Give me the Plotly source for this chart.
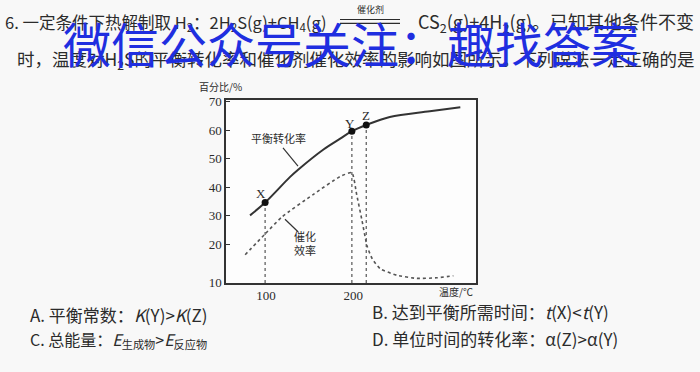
import plotly.graph_objects as go

# ---- data ----
eq_x = [81.6, 98.9, 127.6, 137.1, 165.9, 185.1, 198.5, 215, 242, 288, 323]
eq_y = [30.1, 34.6, 43.6, 46.2, 53.2, 57.0, 59.6, 61.8, 64.6, 66.6, 68.0]

cat_x = [76, 99, 118, 154, 185, 198.5, 204, 210, 216, 222, 231, 250, 273, 296, 315]
cat_y = [16.3, 23.6, 29.5, 37.4, 43.7, 45.1, 37.4, 28.5, 19.3, 14.8, 11.4, 9.1, 8.0, 8.2, 8.9]

pt_names = ["X", "Y", "Z"]
pt_x = [98.9, 198.5, 215]
pt_y = [34.6, 59.6, 61.8]

y_tickvals = [6.4, 20, 30, 40, 50, 60, 70]
y_ticktext = ["10", "20", "30", "40", "50", "60", "70"]
x_tickvals = [100, 200]
x_ticktext = ["100", "200"]

W, H = 700, 372
TXT = "#2b2b2b"
CJK = "Noto Sans CJK SC"
SERIF = "Liberation Serif"


def px(x):
    return x / W


def py(y):
    return 1 - y / H


fig = go.Figure()

# dotted verticals from points to axis
for xx, yy in zip(pt_x, pt_y):
    fig.add_trace(go.Scatter(x=[xx, xx], y=[y_tickvals[0], yy], mode="lines",
                             line=dict(color="#555", width=1.2, dash="dot"),
                             showlegend=False, hoverinfo="skip"))

fig.add_trace(go.Scatter(x=cat_x, y=cat_y, mode="lines",
                         line=dict(color="#555", width=1.6, dash="dot", shape="spline", smoothing=0.5),
                         showlegend=False))
fig.add_trace(go.Scatter(x=eq_x, y=eq_y, mode="lines",
                         line=dict(color="#333", width=2, shape="spline", smoothing=1.0),
                         showlegend=False))
fig.add_trace(go.Scatter(x=pt_x, y=pt_y, mode="markers",
                         marker=dict(color="#111", size=7),
                         showlegend=False))

fig.update_layout(
    width=W, height=H,
    margin=dict(l=0, r=0, t=0, b=0),
    paper_bgcolor="#f8f8f8", plot_bgcolor="#fdfdfd",
    xaxis=dict(domain=[px(226), px(476)], range=[54, 341],
               tickvals=x_tickvals, ticktext=x_ticktext, ticks="",
               showgrid=False, zeroline=False, showline=True, mirror=True,
               linecolor="#333", linewidth=1.5,
               tickfont=dict(family=SERIF, size=13, color=TXT)),
    yaxis=dict(domain=[py(288), py(98)], range=[6.4, 70.7],
               tickvals=y_tickvals, ticktext=y_ticktext, ticks="inside", ticklen=4,
               tickcolor="#333",
               showgrid=False, zeroline=False, showline=True, mirror=True,
               linecolor="#333", linewidth=1.5,
               tickfont=dict(family=SERIF, size=13, color=TXT)),
    font=dict(family=CJK, color=TXT),
)


def ann(x, y, text, size=14, font=CJK, color=TXT, xanchor="left", **kw):
    fig.add_annotation(x=px(x), y=py(y), xref="paper", yref="paper", text=text,
                       showarrow=False, xanchor=xanchor, yanchor="middle",
                       font=dict(family=font, size=size, color=color), **kw)


# point labels
ann(261, 195, "X", 13, SERIF, xanchor="center")
ann(350, 123, "Y", 13, SERIF, xanchor="center")
ann(366, 114, "Z", 13, SERIF, xanchor="center")

# curve labels
ann(278, 138, "平衡转化率", 11, xanchor="center")
ann(305, 247, "催化<br>效率", 11, xanchor="center")
fig.add_shape(type="line", xref="paper", yref="paper", x0=px(283), y0=py(148), x1=px(298), y1=py(167),
              line=dict(color="#333", width=1.2))
fig.add_shape(type="line", xref="paper", yref="paper", x0=px(285), y0=py(222), x1=px(298), y1=py(235),
              line=dict(color="#333", width=1.2))

# axis titles
ann(220, 84, "百分比/%", 10, xanchor="center")
ann(456, 297, "温度/℃", 10, xanchor="center")

# question text
ann(3, 18, "6. 一定条件下热解制取 H<sub>2</sub>：2H<sub>2</sub>S(g)+CH<sub>4</sub>(g)", 16.5)
ann(370, 5, "催化剂", 9, xanchor="center")
fig.add_shape(type="line", xref="paper", yref="paper", x0=px(340), y0=py(15), x1=px(400), y1=py(15),
              line=dict(color=TXT, width=1.2))
fig.add_shape(type="line", xref="paper", yref="paper", x0=px(340), y0=py(19), x1=px(400), y1=py(19),
              line=dict(color=TXT, width=1.2))
ann(696, 18, "CS<sub>2</sub>(g)+4H<sub>2</sub>(g)。已知其他条件不变", 18, xanchor="right")
ann(15, 57, "时，温度对H<sub>2</sub>S的平衡转化率和催化剂催化效率的影响如图所示。下列说法一定正确的是", 17.5)

# watermark
ann(351, 38, "微信公众号关注：趣找答案", 48, CJK, "#1f2ee0", xanchor="center")

# options
ann(28, 321, "A. 平衡常数：<i>K</i>(Y)><i>K</i>(Z)", 17)
ann(370, 318, "B. 达到平衡所需时间：<i>t</i>(X)&lt;<i>t</i>(Y)", 17)
ann(28, 347, "C. 总能量：<i>E</i><sub>生成物</sub>><i>E</i><sub>反应物</sub>", 16)
ann(370, 346, "D. 单位时间的转化率：α(Z)>α(Y)", 17)

fig.write_html("out.html")
